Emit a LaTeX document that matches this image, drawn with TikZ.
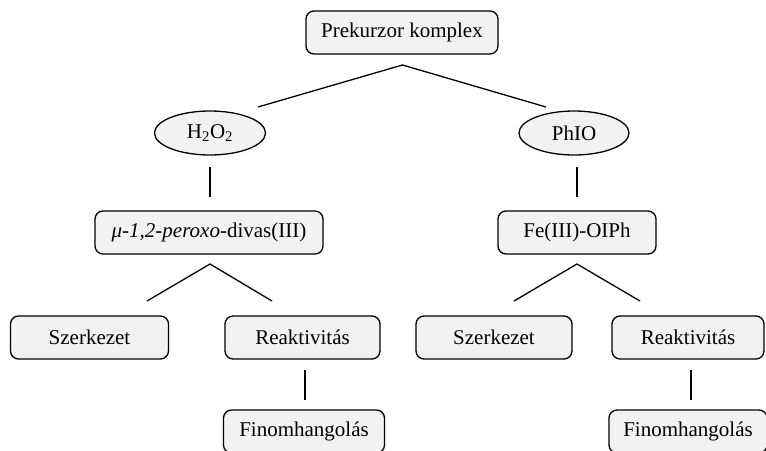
\documentclass[tikz,border=0pt]{standalone}
\usepackage{fontspec}
\setmainfont{Liberation Serif}
\usetikzlibrary{shapes.geometric}
\definecolor{boxfill}{HTML}{F2F2F2}
\begin{document}
\begin{tikzpicture}[x=1pt,y=-1pt,
  every node/.style={font=\fontsize{21}{25}\selectfont, inner sep=0pt, text=black},
  rbox/.style={draw=black, line width=1.3pt, fill=boxfill, rounded corners=8pt, minimum height=43pt},
  ebox/.style={ellipse, draw=black, line width=1.3pt, fill=boxfill, minimum height=44pt},
  conn/.style={line width=1.3pt, black}]
\useasboundingbox (0,0) rectangle (766,450);
\clip (0,0) rectangle (766,450);
% nodes
\node[rbox, minimum width=192pt] (pre) at (402,32.5) {Prekurzor komplex};
\node[ebox, minimum width=111pt] (hoo) at (210,133) {H\textsubscript{2}O\textsubscript{2}};
\node[ebox, minimum width=110pt] (phio) at (574,133) {PhIO};
\node[rbox, minimum width=228pt] (mu) at (209,232.5) {\textit{μ-1,2-peroxo}-divas(III)};
\node[rbox, minimum width=158pt] (fe) at (577,232.5) {Fe(III)-OIPh};
\node[rbox, minimum width=158pt] (szl) at (89.5,337.5) {Szerkezet};
\node[rbox, minimum width=155pt] (rel) at (302.5,337.5) {Reaktivitás};
\node[rbox, minimum width=156pt] (szr) at (494,337.5) {Szerkezet};
\node[rbox, minimum width=152pt] (rer) at (688,337.5) {Reaktivitás};
\node[rbox, minimum width=161pt] (fil) at (304,431.5) {Finomhangolás};
\node[rbox, minimum width=158pt] (fir) at (688,431.5) {Finomhangolás};
% connector coordinates
\coordinate (a0) at (402.5,65);
\coordinate (a0l) at (258,107);
\coordinate (a0r) at (546,107);
\coordinate (v1t) at (210,167);
\coordinate (v1b) at (210,197);
\coordinate (v2t) at (577,167);
\coordinate (v2b) at (577,197);
\coordinate (a1) at (210,264);
\coordinate (a1l) at (147,301);
\coordinate (a1r) at (272,301);
\coordinate (a2) at (577,264);
\coordinate (a2l) at (514,301);
\coordinate (a2r) at (640,301);
\coordinate (v3t) at (305,370);
\coordinate (v3b) at (305,400);
\coordinate (v4t) at (691,370);
\coordinate (v4b) at (691,400);
% connectors
\draw[conn] (a0l) -- (a0) -- (a0r);
\draw[conn] (v1t) -- (v1b);
\draw[conn] (v2t) -- (v2b);
\draw[conn] (a1l) -- (a1) -- (a1r);
\draw[conn] (a2l) -- (a2) -- (a2r);
\draw[conn] (v3t) -- (v3b);
\draw[conn] (v4t) -- (v4b);
\end{tikzpicture}
\end{document}
